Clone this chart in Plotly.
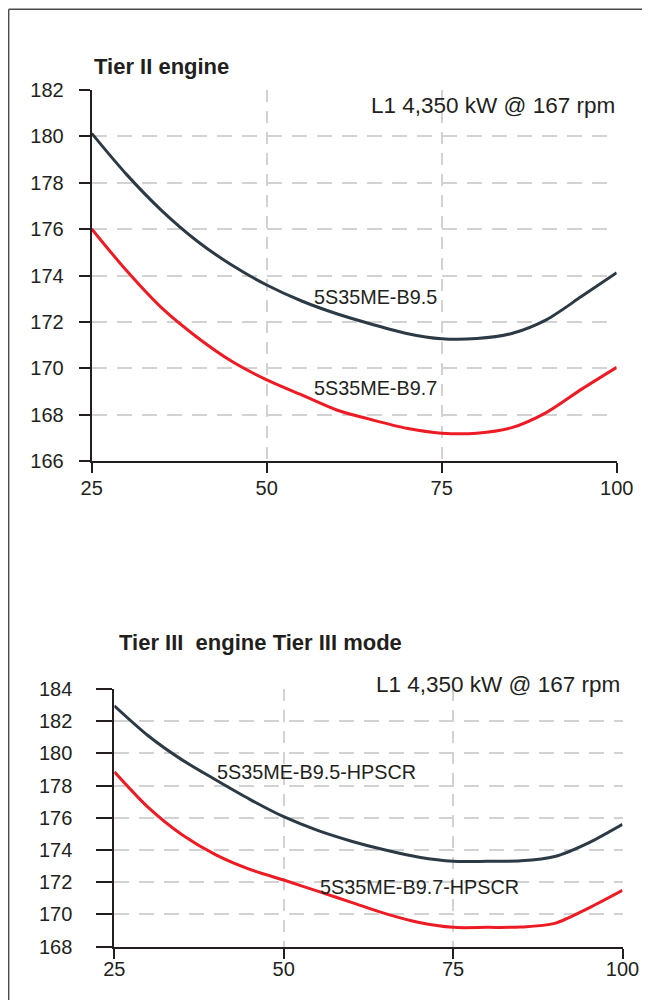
import plotly.graph_objects as go

# ---- data ----
load_pct = [25, 30, 35, 40, 45, 50, 55, 60, 65, 70, 75, 80, 85, 90, 95, 100]

tier2_b95 = [180.13, 178.35, 176.8, 175.5, 174.45, 173.59, 172.9, 172.35, 171.9,
             171.5, 171.27, 171.28, 171.5, 172.1, 173.1, 174.12]
tier2_b97 = [176.01, 174.2, 172.6, 171.35, 170.3, 169.5, 168.85, 168.2, 167.78,
             167.41, 167.2, 167.2, 167.44, 168.1, 169.1, 170.04]
tier3_b95 = [182.96, 181.1, 179.6, 178.35, 177.15, 176.07, 175.22, 174.55, 174.0,
             173.55, 173.3, 173.3, 173.33, 173.6, 174.45, 175.6]
tier3_b97 = [178.86, 176.65, 174.95, 173.7, 172.8, 172.14, 171.45, 170.75, 170.05,
             169.5, 169.2, 169.2, 169.22, 169.45, 170.4, 171.5]

x_ticks = [25, 50, 75, 100]
x_grid = [50, 75]
top_y_ticks = [166, 168, 170, 172, 174, 176, 178, 180, 182]
top_y_grid = [168, 170, 172, 174, 176, 178, 180]
bot_y_ticks = [168, 170, 172, 174, 176, 178, 180, 182, 184]
bot_y_grid = [170, 172, 174, 176, 178, 180, 182]

top_title = "<b>Tier II engine</b>"
bot_title = "<b>Tier III\u00a0 engine Tier III mode</b>"
rating = "L1 4,350 kW @ 167 rpm"

DARK = "#2c3a46"
RED = "#ed1c24"
AXIS = "#231f20"
GRID = "#d2d2d2"
FAM = "Liberation Sans, Arial, sans-serif"
TICKFONT = dict(family=FAM, size=20, color=AXIS)
LABFONT = dict(family=FAM, size=19.8, color=AXIS)
RATEFONT = dict(family=FAM, size=22.5, color=AXIS)
TITLEFONT = dict(family=FAM, size=22, color=AXIS)

# the page body adds an 8px offset; figure pixels = picture pixels - 8.
# The figure is sized so that body margin + figure fits the 650x1008 window exactly.
OFF = 8
W, H = 650 - 2 * OFF, 1008 - 2 * OFF


def px(v):
    return (v - OFF) / W


def py(v):
    return 1 - (v - OFF) / H


fig = go.Figure()
line_kw = dict(mode="lines", line_shape="spline", hoverinfo="skip")
fig.add_trace(go.Scatter(x=load_pct, y=tier2_b95, line=dict(color=DARK, width=3, smoothing=0.8), xaxis="x", yaxis="y", **line_kw))
fig.add_trace(go.Scatter(x=load_pct, y=tier2_b97, line=dict(color=RED, width=3, smoothing=0.8), xaxis="x", yaxis="y", **line_kw))
fig.add_trace(go.Scatter(x=load_pct, y=tier3_b95, line=dict(color=DARK, width=3, smoothing=0.8), xaxis="x2", yaxis="y2", **line_kw))
fig.add_trace(go.Scatter(x=load_pct, y=tier3_b97, line=dict(color=RED, width=3, smoothing=0.8), xaxis="x2", yaxis="y2", **line_kw))


def xaxis(domain, anchor, ticklen, standoff):
    return dict(
        domain=domain, anchor=anchor, range=[25, 100], tickmode="array", tickvals=x_ticks,
        ticks="outside", ticklen=ticklen, tickwidth=2, tickcolor=AXIS,
        showline=True, linecolor=AXIS, linewidth=2, showgrid=False, zeroline=False,
        tickfont=TICKFONT, ticklabelstandoff=standoff, fixedrange=True, automargin=False,
        minor=dict(tickmode="array", tickvals=x_grid, showgrid=True, gridcolor=GRID,
                   gridwidth=1.5, griddash="12px,9px", ticks=""),
    )


def yaxis(domain, anchor, rng, ticks, grid, ticklen, standoff):
    return dict(
        domain=domain, anchor=anchor, range=rng, tickmode="array", tickvals=ticks,
        ticks="outside", ticklen=ticklen, tickwidth=2, tickcolor=AXIS,
        showline=True, linecolor=AXIS, linewidth=2, showgrid=False, zeroline=False,
        tickfont=TICKFONT, ticklabelstandoff=standoff, fixedrange=True, automargin=False,
        minor=dict(tickmode="array", tickvals=grid, showgrid=True, gridcolor=GRID,
                   gridwidth=1.5, griddash="15px,10px", ticks=""),
    )


fig.update_layout(
    width=W, height=H, margin=dict(l=0, r=0, t=0, b=0, autoexpand=False),
    paper_bgcolor="white", plot_bgcolor="white", showlegend=False,
    xaxis=xaxis([px(91.7), px(616.7)], "y", 10, -2),
    yaxis=yaxis([py(461), py(90)], "x", [166, 182], top_y_ticks, top_y_grid, 11, 11),
    xaxis2=xaxis([px(114.3), px(622.5)], "y2", 10, -7),
    yaxis2=yaxis([py(946.7), py(689)], "x2", [168, 184], bot_y_ticks, bot_y_grid, 16, 20),
)

annotations = [
    dict(text=top_title, xref="paper", yref="paper", x=px(92), y=py(66),
         xanchor="left", yanchor="middle", showarrow=False, font=TITLEFONT),
    dict(text=bot_title, xref="paper", yref="paper", x=px(116.7), y=py(642),
         xanchor="left", yanchor="middle", showarrow=False, font=TITLEFONT),
    dict(text=rating, xref="paper", yref="paper", x=px(617), y=py(105.5),
         xanchor="right", yanchor="middle", showarrow=False, font=RATEFONT),
    dict(text=rating, xref="paper", yref="paper", x=px(621.7), y=py(684),
         xanchor="right", yanchor="middle", showarrow=False, font=RATEFONT),
    dict(text="5S35ME-B9.5", xref="x", yref="y", x=65.57, y=173.07,
         xanchor="center", yanchor="middle", showarrow=False, font=LABFONT),
    dict(text="5S35ME-B9.7", xref="x", yref="y", x=65.57, y=169.13,
         xanchor="center", yanchor="middle", showarrow=False, font=LABFONT),
    dict(text="5S35ME-B9.5-HPSCR", xref="x2", yref="y2", x=54.77, y=178.84,
         xanchor="center", yanchor="middle", showarrow=False, font=LABFONT),
    dict(text="5S35ME-B9.7-HPSCR", xref="x2", yref="y2", x=70.0, y=171.73,
         xanchor="center", yanchor="middle", showarrow=False, font=LABFONT),
]
fig.update_layout(annotations=annotations)

# outer frame: only its top and left edges fall inside the picture
FRAME = dict(color="#4a4a4a", width=1.4)
fig.add_shape(type="line", xref="paper", yref="paper", x0=0.7 / W, x1=1.5,
              y0=py(9.3), y1=py(9.3), line=FRAME, layer="below")
fig.add_shape(type="line", xref="paper", yref="paper", x0=0.7 / W, x1=0.7 / W,
              y0=py(9.3), y1=-0.5, line=FRAME, layer="below")

fig.write_html("out.html")
